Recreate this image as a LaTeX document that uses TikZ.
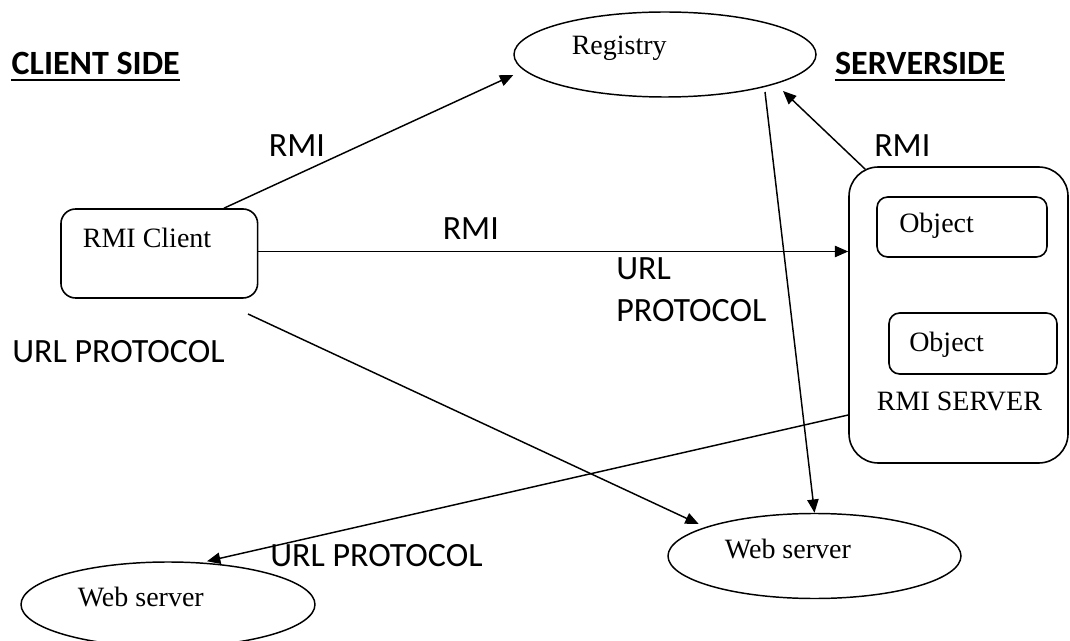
\documentclass[tikz,border=0pt]{standalone}
\usepackage{fontspec}
\setmainfont{Liberation Serif}
\newfontfamily\calfont{Carlito}
\usetikzlibrary{arrows.meta,calc,shapes.geometric}
\begin{document}
\begin{tikzpicture}[x=0.75pt,y=-0.75pt,
  box/.style={draw, line width=1.2pt, rounded corners=11pt, inner sep=0pt},
  oval/.style={draw, ellipse, line width=1.1pt, inner sep=0pt},
  arr/.style={line width=1.1pt, -{Triangle[length=10pt,width=8.5pt]}},
  serif/.style={inner sep=0pt, anchor=base west, font=\fontsize{21}{25}\selectfont},
  lbl/.style={inner sep=0pt, anchor=base west, font=\calfont\fontsize{25.5}{30}\selectfont},
  head/.style={inner sep=0pt, anchor=base west, font=\calfont\bfseries\fontsize{25.5}{30}\selectfont},
  uline/.style={line width=1.6pt},
]
\useasboundingbox[fill=white] (0,0) rectangle (1070,641);

% shapes
\node[box, minimum width=147.5pt, minimum height=66.75pt] (client) at (159.3,253.5) {};
\node[oval, minimum width=226.5pt, minimum height=63.75pt] (registry) at (665,54.5) {};
\node[box, rounded corners=22pt, minimum width=164.25pt, minimum height=222pt] (server) at (958.5,315) {};
\node[box, rounded corners=8pt, minimum width=127.5pt, minimum height=45pt] (obj1) at (962,227) {};
\node[box, rounded corners=8pt, minimum width=126pt, minimum height=45.75pt] (obj2) at (973,343.5) {};
\node[oval, minimum width=220.5pt, minimum height=63.75pt] (web1) at (168,604.5) {};
\node[oval, minimum width=219.75pt, minimum height=63.75pt] (web2) at (814.5,556) {};

% texts inside the shapes
\node[serif] (clienttxt) at (82.6,248) {RMI Client};
\node[serif] (regtxt) at (571.5,55) {Registry};
\node[serif] (obj1txt) at (899,233) {Object};
\node[serif] (obj2txt) at (909,351.7) {Object};
\node[serif] (servertxt) at (876.7,410) {RMI SERVER};
\node[serif] (web1txt) at (77.5,606.7) {Web server};
\node[serif] (web2txt) at (724.6,558.3) {Web server};

% side headings
\node[head] (cs) at (11.4,75) {CLIENT SIDE};
\draw[uline] ([yshift=-3.9pt]cs.base west) -- ([yshift=-3.9pt]cs.base east);
\node[head] (ss) at (834.8,75) {SERVERSIDE};
\draw[uline] ([yshift=-3.9pt]ss.base west) -- ([yshift=-3.9pt]ss.base east);

% connector labels
\node[lbl] (rmi1) at (268.6,157) {RMI};
\node[lbl] (rmi2) at (442.5,240) {RMI};
\node[lbl] (rmi3) at (874,157) {RMI};
\node[lbl] (urlA) at (616,280) {URL};
\node[lbl] (urlB) at (616,321) {PROTOCOL};
\node[lbl] (urlL) at (12,362.7) {URL PROTOCOL};
\node[lbl] (urlD) at (270,566.7) {URL PROTOCOL};

% connectors
\draw[arr] ([xshift=48.5pt]client.north) -- ([yshift=-15.4pt]registry.west);
\coordinate (h) at ([yshift=1.5pt]client.east);
\draw[arr] (h) -- (h -| server.west);
\coordinate (c3) at (248,314);
\draw[arr] (c3) -- ($(web2.center)+(-115.8,-32)$);
\draw[arr] ($(server.north west)+(17,3)$) -- ($(registry.center)+(118,36.5)$);
\draw[arr] ($(registry.center)+(100,37.5)$) -- (web2.north);
\draw[arr] ($(server.west)+(0,100)$) -- ($(web1.north)+(39,0)$);
\end{tikzpicture}
\end{document}
